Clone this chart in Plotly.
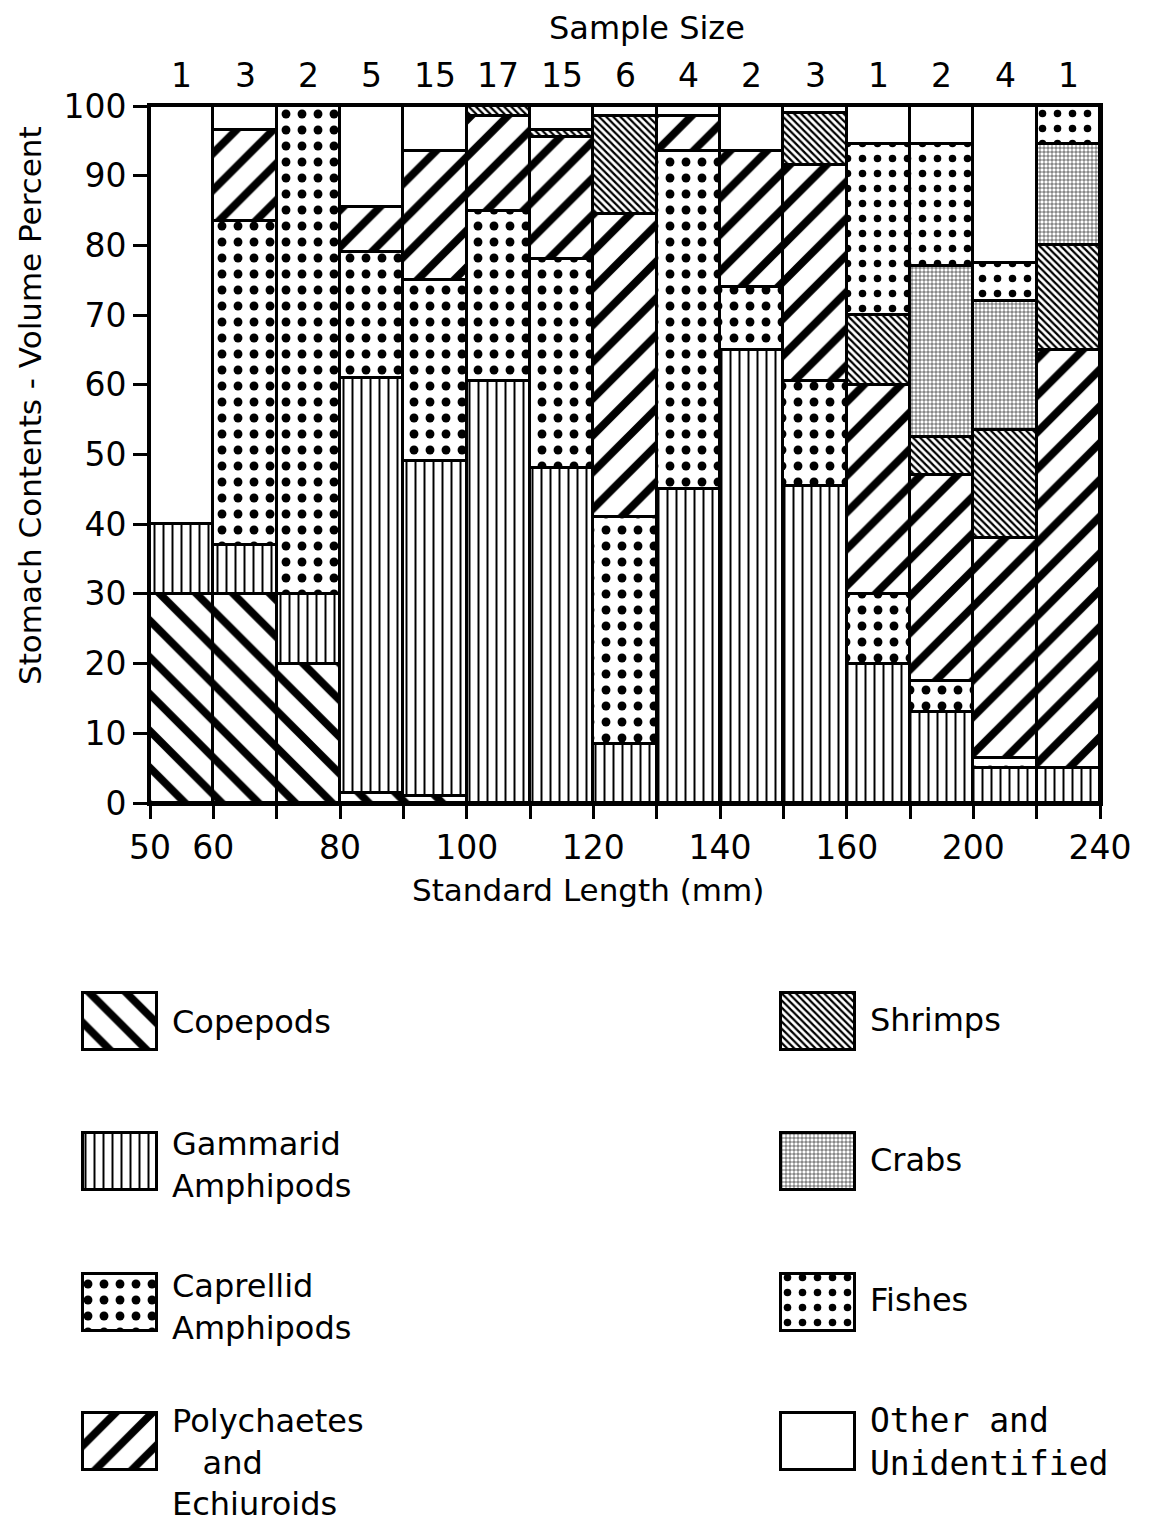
import numpy as np
import plotly.graph_objects as go

# ---------------- data ----------------
bin_labels = ["50-60", "60-70", "70-80", "80-90", "90-100", "100-110", "110-120",
              "120-130", "130-140", "140-150", "150-160", "160-180", "180-200",
              "200-220", "220-240"]
sample_size = [1, 3, 2, 5, 15, 17, 15, 6, 4, 2, 3, 1, 2, 4, 1]
edge_ticktext = ["50", "60", "", "80", "", "100", "", "120", "", "140", "", "160", "", "200", "", "240"]

copepods    = [30, 30, 20, 1.5, 1, 0, 0, 0, 0, 0, 0, 0, 0, 0, 0]
gammarid    = [10, 7, 10, 59.5, 48, 60.5, 48, 8.5, 45, 65, 45.5, 20, 13, 5, 5]
caprellid   = [0, 46.5, 70, 18, 26, 24.5, 30, 32.5, 48.5, 9, 15, 10, 4.5, 1.5, 0]
polychaetes = [0, 13, 0, 6.5, 18.5, 13.5, 17.5, 43.5, 5, 19.5, 31, 30, 29.5, 31.5, 60]
shrimps     = [0, 0, 0, 0, 0, 1.5, 1, 14, 0, 0, 7.5, 10, 5.5, 15.5, 15]
crabs       = [0, 0, 0, 0, 0, 0, 0, 0, 0, 0, 0, 0, 24.5, 18.5, 14.5]
fishes      = [0, 0, 0, 0, 0, 0, 0, 0, 0, 0, 0, 24.5, 17.5, 5.5, 5.5]
other       = [60, 3.5, 0, 14.5, 6.5, 0, 3.5, 1.5, 1.5, 6.5, 1, 5.5, 5.5, 22.5, 0]

series_names = ["Copepods", "Gammarid<br>Amphipods", "Caprellid<br>Amphipods",
                "Polychaetes<br>   and<br>Echiuroids", "Shrimps", "Crabs", "Fishes",
                "Other and<br>Unidentified"]
series_values = [copepods, gammarid, caprellid, polychaetes, shrimps, crabs, fishes, other]

# ---------------- styles ----------------
patterns = [
    dict(shape="\\", size=26, solidity=0.3),
    dict(shape="|", size=9, solidity=0.22),
    dict(shape=".", size=16, solidity=0.24),
    dict(shape="/", size=26, solidity=0.3),
    dict(shape="\\", size=5, solidity=0.45),
    dict(shape="+", size=4, solidity=0.25),
    dict(shape=".", size=15, solidity=0.2),
    None,
]

W, H = 1158, 1524
PX0, PX1, PY_TOP, PY_BOT = 150, 1100, 106, 803
FONT = "DejaVu Sans"

fig = go.Figure()

n = len(bin_labels)
centers = np.arange(n) + 0.5
base = np.zeros(n)

def marker_for(pat):
    m = dict(color="white", line=dict(color="black", width=3))
    if pat is not None:
        m["pattern"] = dict(shape=pat["shape"], size=pat["size"], solidity=pat["solidity"],
                            fgcolor="black", bgcolor="white", fillmode="replace")
    return m

for name, vals, pat in zip(series_names, series_values, patterns):
    v = np.array(vals, dtype=float)
    yv = [val if val > 0 else None for val in v]
    fig.add_trace(go.Bar(
        x=centers, y=yv, base=base.copy(), width=1.0,
        name=name.replace("<br>", " "), marker=marker_for(pat),
        showlegend=False, xaxis="x", yaxis="y"))
    base = base + v

# ---------------- custom legend (swatches in a helper axis) ----------------
leg_cols = [0, 0, 0, 0, 1, 1, 1, 1]
leg_rows = [0, 1, 2, 3, 0, 1, 2, 3]
col_sw_center = [120, 818]
col_text_x = [170, 868]
row_top = [993, 1133, 1274, 1413]
sw_w, sw_h = 74, 57
text_y = [
    [1022, 1165, 1307, 1462],
    [1020, 1160, 1300, 1442],
]

for i, (name, pat) in enumerate(zip(series_names, patterns)):
    c, r = leg_cols[i], leg_rows[i]
    fig.add_trace(go.Bar(
        x=[col_sw_center[c]], y=[sw_h], base=[row_top[r]], width=sw_w,
        marker=marker_for(pat), showlegend=False, hoverinfo="skip",
        xaxis="x2", yaxis="y2"))
    is_other = name.startswith("Other")
    fig.add_annotation(
        x=col_text_x[c], y=text_y[c][r], xref="x2", yref="y2",
        text=name, showarrow=False, xanchor="left", yanchor="middle", align="left",
        font=dict(family="DejaVu Sans Mono" if is_other else FONT,
                  size=33 if is_other else 32, color="black"))

# sample sizes above bars
for cx, s in zip(centers, sample_size):
    fig.add_annotation(x=cx, y=1 - 75 / H, xref="x", yref="paper", text=str(s),
                       showarrow=False, font=dict(family=FONT, size=33, color="black"),
                       yanchor="middle")

fig.add_annotation(x=647 / W, y=1 - 28 / H, xref="paper", yref="paper", text="Sample Size",
                   showarrow=False, font=dict(family=FONT, size=32, color="black"),
                   yanchor="middle")
fig.add_annotation(x=30 / W, y=1 - 406 / H, xref="paper", yref="paper",
                   text="Stomach Contents - Volume Percent", textangle=-90,
                   showarrow=False, font=dict(family=FONT, size=31, color="black"),
                   xanchor="center", yanchor="middle")
fig.add_annotation(x=588 / W, y=1 - 890 / H, xref="paper", yref="paper",
                   text="Standard Length (mm)",
                   showarrow=False, font=dict(family=FONT, size=31, color="black"),
                   yanchor="middle")

fig.update_layout(
    template="none",
    width=W, height=H,
    margin=dict(l=0, r=0, t=0, b=0, pad=0),
    paper_bgcolor="white", plot_bgcolor="white",
    barmode="overlay", bargap=0,
    showlegend=False,
    xaxis=dict(domain=[PX0 / W, PX1 / W], range=[0, n], automargin=False,
               tickvals=list(range(n + 1)), ticktext=edge_ticktext,
               ticks="outside", ticklen=13, tickwidth=2.5, tickcolor="black",
               showline=True, linewidth=3, linecolor="black", mirror=True,
               showgrid=False, zeroline=False, anchor="y",
               tickfont=dict(family=FONT, size=33, color="black")),
    yaxis=dict(domain=[1 - PY_BOT / H, 1 - PY_TOP / H], range=[0, 100], automargin=False,
               tickvals=list(range(0, 101, 10)),
               ticks="outside", ticklen=14, tickwidth=2.5, tickcolor="black",
               showline=True, linewidth=3, linecolor="black", mirror=True,
               showgrid=False, zeroline=False, anchor="x",
               tickfont=dict(family=FONT, size=33, color="black")),
    xaxis2=dict(domain=[0, 1], range=[0, W], visible=False, anchor="y2", automargin=False),
    yaxis2=dict(domain=[0, (H - 940) / H], range=[H, 940], visible=False, anchor="x2",
                automargin=False),
)

fig.write_html("out.html")
